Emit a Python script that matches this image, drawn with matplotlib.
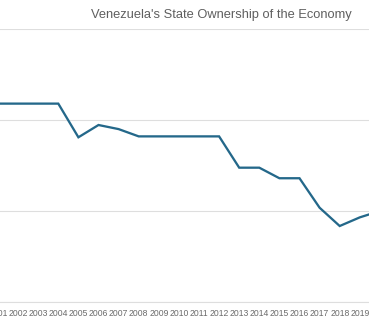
import matplotlib
matplotlib.use("Agg")
import matplotlib.pyplot as plt

years = list(range(2000, 2021))
values = [2.18, 2.18, 2.18, 2.18, 2.18, 1.81, 1.945, 1.90, 1.82, 1.82, 1.82, 1.82, 1.82,
          1.476, 1.476, 1.36, 1.36, 1.036, 0.835, 0.93, 1.0]
title = "Venezuela's State Ownership of the Economy"

W, H = 369, 330
fig = plt.figure(figsize=(W / 100, H / 100), dpi=100)

# pixel mapping: year -> px = -2 + (year-2001)*20.1
px_per_year = 20.1
x2001 = -2.0
left_px, right_px = -60.0, 420.0
xmin = 2001 + (left_px - x2001) / px_per_year
xmax = 2001 + (right_px - x2001) / px_per_year
bottom = (H - 302) / H
top = (H - 29) / H
ax = fig.add_axes([left_px / W, bottom, (right_px - left_px) / W, top - bottom])
ax.set_xlim(xmin, xmax)
ax.set_ylim(0, 3)

ax.plot(years, values, color="#24688a", lw=1.65, solid_joinstyle="miter", clip_on=False)

ax.set_yticks([0, 1, 2, 3])
ax.set_yticklabels([])
ax.grid(axis="y", color="#dedede", lw=0.8)
ax.set_axisbelow(True)
ax.tick_params(axis="y", length=0)
ax.set_xticks(years)
ax.set_xticklabels([str(y) for y in years], fontsize=6.2, color="#6b6b6b",
                   family=["Liberation Sans", "DejaVu Sans"])
ax.tick_params(axis="x", length=0, pad=4.8)
for s in ["top", "left", "right"]:
    ax.spines[s].set_visible(False)
ax.spines["bottom"].set_color("#dedede")
ax.spines["bottom"].set_linewidth(0.8)

fig.text(221 / W, 1 - 15 / H, title, ha="center", va="center", fontsize=9.3,
         color="#5f5f5f", family=["Liberation Sans", "DejaVu Sans"])

fig.savefig("out.png", dpi=100)
